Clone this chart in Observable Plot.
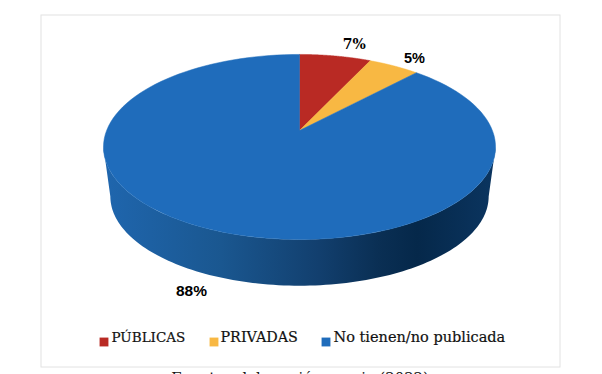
<!DOCTYPE html>
<html><head><meta charset="utf-8">
<script src="https://cdn.jsdelivr.net/npm/d3@7"></script>
<script src="https://cdn.jsdelivr.net/npm/@observablehq/plot@0.6"></script>
<style>html,body{margin:0;padding:0;background:#fff;overflow:hidden;height:374px}
svg{display:block}
#cap{position:absolute;left:0;width:600px;top:369px;text-align:center;font:14.8px "DejaVu Serif";color:#111;white-space:nowrap}</style>
</head><body><div id="chart"></div><div id="cap">Fuente: elaboración propia (2022)</div>
<script>
const categories = ["PÚBLICAS","PRIVADAS","No tienen/no publicada"];
const shares = [7,5,88];
const colors = ["#b92a24","#f8b843","#1f6cbb"];

// perspective of the pie disc
const k = 0.178, depthScale = 0.965, depthY = -0.558;
const TAU = Math.PI*2;
const proj = (t, s=1, dy=0) => {
  const u=Math.sin(t), v=Math.cos(t), w=1+k*v;
  return {x:s*u/w, y:s*v/w+dy};
};
const total = d3.sum(shares);
let acc=0;
const slices = categories.map((c,i)=>{const a0=acc/total*TAU; acc+=shares[i]; return {c,i,a0,a1:acc/total*TAU};});
const arcPts = (a0,a1,s=1,dy=0)=>d3.range(0,121).map(j=>proj(a0+(a1-a0)*j/120,s,dy));
const slicePts = slices.flatMap(s=>[{x:0,y:0},...arcPts(s.a0,s.a1),{x:0,y:0}].map(p=>({...p,c:s.c})));
const tan = Math.acos(-k);
const wall = [...arcPts(tan,TAU-tan), ...arcPts(tan,TAU-tan,depthScale,depthY).reverse()];
const gradient = () => {
  const s=d3.create("svg:defs");
  const g=s.append("linearGradient").attr("id","wallGrad").attr("x1",0).attr("x2",1).attr("y1",0).attr("y2",0);
  [[0,"#1f66ae"],[0.3,"#1a5790"],[0.55,"#123f6e"],[0.7,"#0a2f54"],[0.8,"#05284a"],[1,"#0b3560"]]
    .forEach(([o,c])=>g.append("stop").attr("offset",o).attr("stop-color",c));
  return s.node();
};
const labelOffsets=[[19,-11.5],[20.5,-7.5],[-23,61]];
const labelFonts=["DejaVu Serif","Liberation Sans","Liberation Sans"];
const labelSizes=[14,14.5,15.5];
const labelMarks = slices.map((s,i)=>{
  const p=proj((s.a0+s.a1)/2);
  return Plot.text([{...p,t:shares[i]+"%"}],{x:"x",y:"y",text:"t",dx:labelOffsets[i][0],dy:labelOffsets[i][1],
    fontFamily:labelFonts[i],fontWeight:"bold",fontSize:labelSizes[i],fill:"#000"});
});
const legendX=[99.5,209.5,321.5], legendTextX=[111,220,333], legendSizes=[13.5,14.3,14.5];
const legendMarks = categories.flatMap((c,i)=>[
  Plot.dot([c],{frameAnchor:"bottom-left",dx:legendX[i]-40.5+4,dy:-25,r:5,symbol:"square",fill:colors[i],stroke:null}),
  Plot.text([c],{frameAnchor:"bottom-left",dx:legendTextX[i]-40.5,dy:-25,text:d=>d,textAnchor:"start",fontFamily:"DejaVu Serif",fontSize:legendSizes[i],fill:"#111",stroke:"#111",strokeWidth:0.2})
]);
const plot = Plot.plot({
  width:602,height:368,marginTop:14.5,marginLeft:40.5,marginRight:42.5,marginBottom:1.5,
  style:{background:"transparent",overflow:"visible"},
  x:{type:"linear",domain:[-1,1],range:[299-192.9,299+192.9],axis:null},
  y:{type:"linear",domain:[-1,1],range:[130+89.6,130-89.6],axis:null},
  color:{domain:categories,range:colors},
  marks:[
    Plot.frame({stroke:"#e2e2e2",strokeWidth:1}),
    gradient,
    Plot.line(wall,{x:"x",y:"y",fill:"url(#wallGrad)",stroke:null}),
    Plot.line(slicePts,{x:"x",y:"y",z:"c",fill:"c",stroke:"c",strokeWidth:0.5}),
    ...labelMarks,
    ...legendMarks
  ]
});
document.getElementById("chart").append(plot);
</script></body></html>
